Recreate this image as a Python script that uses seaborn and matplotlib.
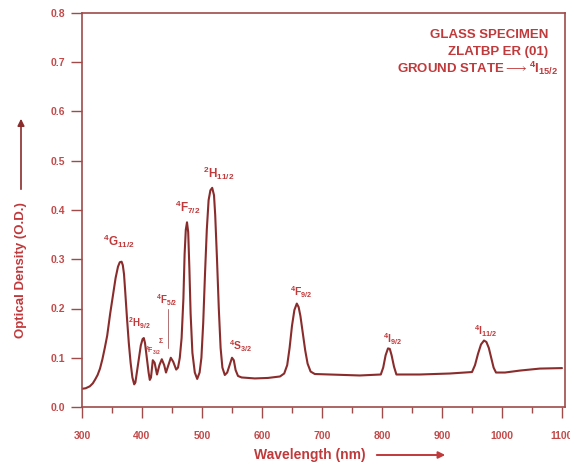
import matplotlib
matplotlib.use('Agg')
import matplotlib.pyplot as plt
import matplotlib.ticker as mticker
import numpy as np
import pandas as pd
import seaborn as sns

# absorption spectrum
wavelength = [300, 306, 313, 318, 322, 326, 330, 334, 338, 342, 347, 352, 356, 360, 363,
              366, 368, 370, 372, 375, 378, 381, 384, 387, 389, 392, 395, 398, 401, 403,
              405, 408, 411, 413, 415, 418, 421, 425, 429, 433, 437, 440, 444, 448, 452,
              457, 460, 463, 466, 469, 471, 473, 475, 477, 479, 481, 484, 488, 492, 496,
              499, 502, 505, 508, 511, 514, 517, 520, 522, 525, 528, 531, 534, 538, 542,
              546, 550, 553, 556, 560, 566, 588, 610, 630, 637, 642, 646, 650, 654, 658,
              661, 664, 668, 672, 676, 681, 688, 713, 763, 798, 802, 806, 810, 813, 816,
              820, 824, 863, 913, 950, 955, 960, 965, 970, 974, 978, 982, 986, 990, 1005,
              1030, 1063, 1100]
optical_density = [0.037, 0.038, 0.042, 0.048, 0.056, 0.065, 0.078, 0.097, 0.120, 0.145,
                   0.190, 0.230, 0.262, 0.285, 0.294, 0.295, 0.288, 0.270, 0.235, 0.180,
                   0.130, 0.090, 0.060, 0.046, 0.050, 0.075, 0.100, 0.125, 0.138, 0.140,
                   0.130, 0.100, 0.070, 0.055, 0.060, 0.095, 0.090, 0.066, 0.085, 0.097,
                   0.085, 0.070, 0.085, 0.100, 0.092, 0.076, 0.080, 0.100, 0.140, 0.220,
                   0.310, 0.360, 0.375, 0.355, 0.280, 0.190, 0.110, 0.070, 0.057, 0.070,
                   0.100, 0.170, 0.270, 0.360, 0.420, 0.440, 0.445, 0.430, 0.390, 0.300,
                   0.200, 0.120, 0.080, 0.065, 0.070, 0.085, 0.100, 0.095, 0.075, 0.063,
                   0.060, 0.058, 0.059, 0.062, 0.068, 0.085, 0.120, 0.165, 0.197, 0.210,
                   0.203, 0.185, 0.150, 0.115, 0.088, 0.072, 0.067, 0.066, 0.064, 0.066,
                   0.080, 0.105, 0.119, 0.118, 0.105, 0.082, 0.066, 0.066, 0.068, 0.071,
                   0.085, 0.108, 0.127, 0.135, 0.132, 0.120, 0.100, 0.080, 0.070, 0.070,
                   0.074, 0.078, 0.079]

# band labels and where they sit
band_labels = [r'$^4$G$_{11/2}$', r'$^2$H$_{9/2}$', r'$^4$F$_{3/2}$', r'$\Sigma$',
               r'$^4$F$_{5/2}$', r'$^4$F$_{7/2}$', r'$^2$H$_{11/2}$', r'$^4$S$_{3/2}$',
               r'$^4$F$_{9/2}$', r'$^4$I$_{9/2}$', r'$^4$I$_{11/2}$']
band_x = [362, 395, 418, 432, 442, 477, 528, 565, 665, 817, 972]
band_y = [0.337, 0.171, 0.114, 0.136, 0.217, 0.406, 0.475, 0.124, 0.233, 0.138, 0.154]
band_size = [8.5, 7, 5, 5, 7, 8.5, 8.5, 7.5, 7.5, 7.5, 7.5]

info_lines = ['GLASS SPECIMEN', 'ZLATBP ER (01)',
              r'GROUND STATE$\longrightarrow$$^4$I$_{15/2}$']

LINE_COLOR = '#8a2c2c'
TEXT_COLOR = '#c0393b'
TICK_COLOR = '#c24a4a'
AXIS_COLOR = '#a04a4a'

sns.set_theme(style='white')
plt.rcParams['font.family'] = ['Liberation Sans', 'DejaVu Sans']
plt.rcParams['mathtext.fontset'] = 'custom'
plt.rcParams['mathtext.rm'] = 'Liberation Sans:bold'
plt.rcParams['mathtext.bf'] = 'Liberation Sans:bold'
plt.rcParams['mathtext.default'] = 'rm'

fig = plt.figure(figsize=(5.7, 4.66), dpi=100)
ax = fig.add_axes([82 / 570, 1 - 407 / 466, (565 - 82) / 570, (407 - 13) / 466])

df = pd.DataFrame({'wl': wavelength, 'od': optical_density})
sns.lineplot(data=df, x='wl', y='od', ax=ax, color=LINE_COLOR, linewidth=1.5,
             sort=False, estimator=None)

ax.set_xlim(300, 1105)
ax.set_ylim(0, 0.8)
ax.xaxis.set_major_locator(mticker.MultipleLocator(100))
ax.xaxis.set_minor_locator(mticker.MultipleLocator(50))
ax.yaxis.set_major_locator(mticker.MultipleLocator(0.1))
ax.yaxis.set_major_formatter(mticker.FormatStrFormatter('%.1f'))
ax.tick_params(axis='both', which='major', direction='out', length=8, width=1,
               color=AXIS_COLOR, labelsize=7.5, labelcolor=TICK_COLOR, pad=4)
ax.tick_params(axis='x', which='minor', direction='out', length=4, width=1,
               color=AXIS_COLOR, bottom=True)
ax.tick_params(axis='x', which='major', pad=9)
ax.tick_params(left=True, bottom=True)
for lab in ax.get_xticklabels() + ax.get_yticklabels():
    lab.set_fontweight('bold')
for sp in ax.spines.values():
    sp.set_color(AXIS_COLOR)
    sp.set_linewidth(1.2)
ax.set_xlabel('')
ax.set_ylabel('')
ax.grid(False)

for text, x, y, fs in zip(band_labels, band_x, band_y, band_size):
    ax.text(x, y, text, fontsize=fs, color=TEXT_COLOR, fontweight='bold',
            ha='center', va='center')
# leader line under the 4F5/2 label
ax.plot([443, 443], [0.199, 0.120], color='#b07070', linewidth=0.7)

ax.text(0.965, 0.944, info_lines[0], transform=ax.transAxes, ha='right', va='center',
        fontsize=9.5, color=TEXT_COLOR, fontweight='bold')
ax.text(0.965, 0.901, info_lines[1], transform=ax.transAxes, ha='right', va='center',
        fontsize=9.5, color=TEXT_COLOR, fontweight='bold')
ax.text(0.985, 0.859, info_lines[2], transform=ax.transAxes, ha='right', va='center',
        fontsize=9.5, color=TEXT_COLOR, fontweight='bold')

# axis titles with arrows
fig.text(21 / 570, 1 - 270 / 466, 'Optical Density (O.D.)', rotation=90,
         ha='center', va='center', fontsize=9.5, color=TEXT_COLOR, fontweight='bold')
fig.add_artist(matplotlib.patches.FancyArrowPatch(
    (21 / 570, 1 - 192 / 466), (21 / 570, 1 - 116 / 466),
    transform=fig.transFigure, arrowstyle='-|>', mutation_scale=10,
    color=LINE_COLOR, linewidth=1.2))
fig.text(310 / 570, 1 - 455 / 466, 'Wavelength (nm)', ha='center', va='center',
         fontsize=10, color=TEXT_COLOR, fontweight='bold')
fig.add_artist(matplotlib.patches.FancyArrowPatch(
    (374 / 570, 1 - 455 / 466), (448 / 570, 1 - 455 / 466),
    transform=fig.transFigure, arrowstyle='-|>', mutation_scale=10,
    color=TEXT_COLOR, linewidth=1.4))

fig.savefig('out.png', dpi=100)
